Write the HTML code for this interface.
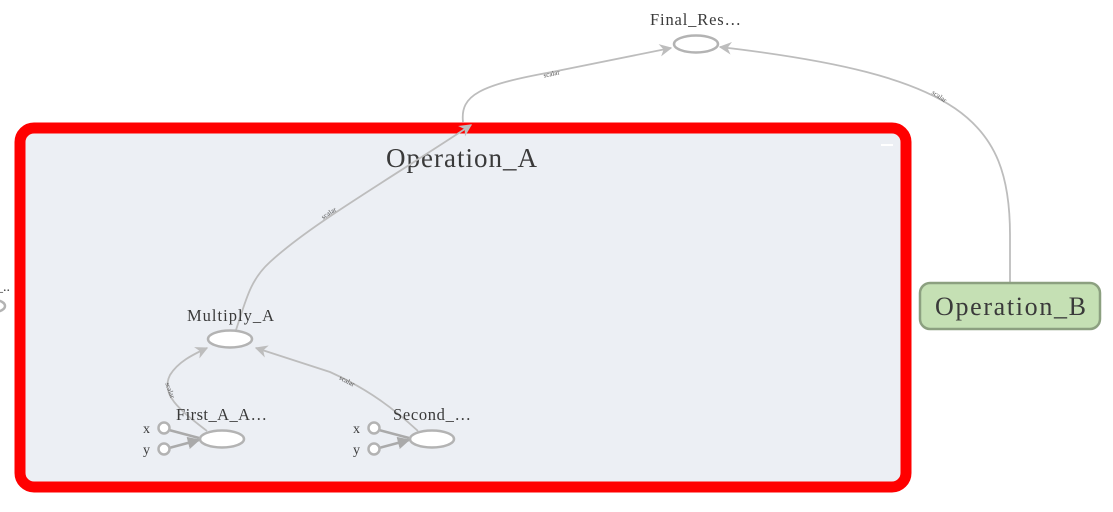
<!DOCTYPE html>
<html><head><meta charset="utf-8"><style>
html,body{margin:0;padding:0;background:#fff;width:1113px;height:512px;overflow:hidden}
text{font-family:"Liberation Serif",serif;fill:#3a3a3a}
.e{fill:none;stroke:#bdbdbd;stroke-width:1.8}
.n{fill:#fff;stroke:#b3b3b3;stroke-width:2.5}
.l{font-size:7px;fill:#555}
</style></head><body>
<svg width="1113" height="512" viewBox="0 0 1113 512">
<defs><marker id="a" viewBox="0 0 10 10" refX="9" refY="5" markerWidth="7" markerHeight="7" orient="auto"><path d="M0,0L10,5L0,10L3,5z" fill="#bdbdbd"/></marker>
<marker id="b" viewBox="0 0 10 10" refX="9" refY="5" markerWidth="5" markerHeight="5" orient="auto"><path d="M0,0L10,5L0,10z" fill="#aaa"/></marker></defs>
<rect x="20" y="128" width="886" height="359" rx="14" fill="#eceff4" stroke="#ff0000" stroke-width="11"/>
<rect x="881" y="144" width="12" height="2" fill="#fff"/>
<text x="386" y="167" font-size="27" textLength="151" lengthAdjust="spacing">Operation_A</text>
<!-- left partial -->
<text x="-4" y="291" font-size="14">_..</text>
<ellipse cx="-6" cy="306" rx="11" ry="6" class="n"/>
<!-- Final -->
<text x="650" y="25" font-size="16.5" textLength="91" lengthAdjust="spacing">Final_Res…</text>
<ellipse cx="696" cy="44" rx="22" ry="8.5" class="n"/>
<path class="e" d="M463,122 C460,95 480,85 552,72 L671,48" marker-end="url(#a)"/>
<text class="l" x="552" y="76" transform="rotate(-12 552 76)" text-anchor="middle">scalar</text>
<path class="e" d="M1010,283 L1010,235 C1010,120 960,75 720,47" marker-end="url(#a)"/>
<text class="l" x="938" y="98" transform="rotate(35 938 98)" text-anchor="middle">scalar</text>
<!-- Operation_B -->
<rect x="920" y="283" width="180" height="46" rx="10" fill="#c5e0b4" stroke="#8ca080" stroke-width="2.5"/>
<text x="935" y="315" font-size="26" textLength="151" lengthAdjust="spacing">Operation_B</text>
<!-- Multiply -->
<path class="e" d="M236,330 C246,300 250,280 270,262 C310,225 380,185 471,125" marker-end="url(#a)"/>
<text class="l" x="330" y="215" transform="rotate(-33 330 215)" text-anchor="middle">scalar</text>
<text x="187" y="321" font-size="16.5" textLength="87" lengthAdjust="spacing">Multiply_A</text>
<ellipse cx="230" cy="339" rx="22" ry="8.5" class="n"/>
<path class="e" d="M207,431 C180,410 160,395 170,375 C178,362 192,355 207,348" marker-end="url(#a)"/>
<text class="l" x="168" y="391" transform="rotate(70 168 391)" text-anchor="middle">scalar</text>
<path class="e" d="M418,431 C395,410 370,390 330,372 L256,348" marker-end="url(#a)"/>
<text class="l" x="346" y="383" transform="rotate(28 346 383)" text-anchor="middle">scalar</text>
<!-- First -->
<text x="176" y="420" font-size="16.5" textLength="91" lengthAdjust="spacing">First_A_A…</text>
<ellipse cx="222" cy="439" rx="22" ry="8.5" class="n"/>
<text x="143" y="433" font-size="14">x</text><text x="143" y="454" font-size="14">y</text>
<path d="M169,430 L199,438 M169,448 L199,440" stroke="#aaa" stroke-width="2.5" marker-end="url(#b)"/>
<circle cx="164" cy="428" r="5.5" class="n" stroke-width="2.2"/><circle cx="164" cy="449" r="5.5" class="n" stroke-width="2.2"/>
<!-- Second -->
<text x="393" y="420" font-size="16.5" textLength="78" lengthAdjust="spacing">Second_…</text>
<ellipse cx="432" cy="439" rx="22" ry="8.5" class="n"/>
<text x="353" y="433" font-size="14">x</text><text x="353" y="454" font-size="14">y</text>
<path d="M379,430 L409,438 M379,448 L409,440" stroke="#aaa" stroke-width="2.5" marker-end="url(#b)"/>
<circle cx="374" cy="428" r="5.5" class="n" stroke-width="2.2"/><circle cx="374" cy="449" r="5.5" class="n" stroke-width="2.2"/>
</svg>
</body></html>
